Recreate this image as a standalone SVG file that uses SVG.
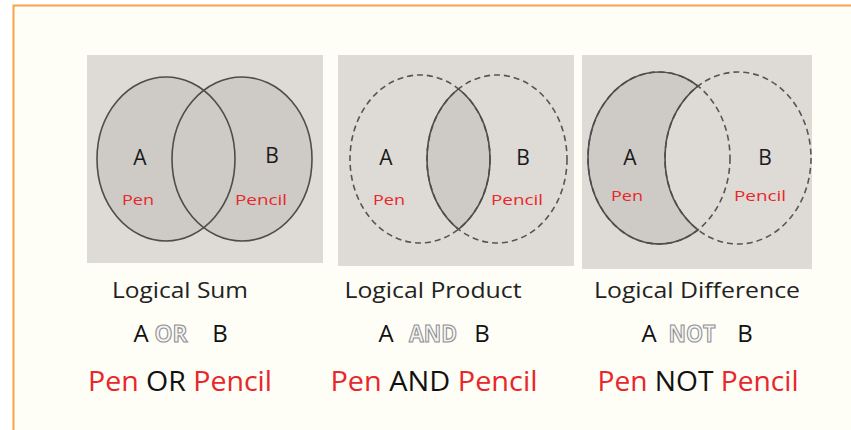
<svg xmlns="http://www.w3.org/2000/svg" width="851" height="430" viewBox="0 0 851 430">
  <style>
    .box { fill: #DEDAD6; }
    .shade { fill: #CECAC6; }
    .solid { fill: none; stroke: #4d4d4d; stroke-width: 1.6; }
    .dash { fill: none; stroke: #555; stroke-width: 1.6; stroke-dasharray: 6 4; }
    .lbl { font-family: "Open Sans", "Liberation Sans", sans-serif; font-size: 21px; fill: #1a1a1a; text-anchor: middle; }
    .red { fill: #E8262B; }
    .small { font-family: "Open Sans", "Liberation Sans", sans-serif; font-size: 15px; fill: #E8262B; text-anchor: middle; }
    .cap { font-family: "Open Sans", "Liberation Sans", sans-serif; font-size: 22px; fill: #222; text-anchor: middle; }
    .op { font-family: "Open Sans", "Liberation Sans", sans-serif; font-size: 24px; fill: #111; text-anchor: middle; }
    .outl { font-family: "Open Sans", "Liberation Sans", sans-serif; font-size: 24px; font-weight: bold; fill: #f4f4f4; stroke: #8e8e8e; stroke-width: 1.1; text-anchor: middle; }
    .row { font-family: "Open Sans", "Liberation Sans", sans-serif; font-size: 27px; fill: #111; text-anchor: middle; }
  </style>
  <defs>
    <clipPath id="clipA2"><ellipse cx="420" cy="159" rx="70" ry="84"/></clipPath>
    <clipPath id="clipB2"><ellipse cx="497" cy="159" rx="70" ry="84"/></clipPath>
    <clipPath id="clipA3"><ellipse cx="659" cy="158" rx="71" ry="86"/></clipPath>
    <mask id="outB3">
      <rect x="570" y="50" width="260" height="230" fill="#fff"/>
      <ellipse cx="738" cy="158" rx="73" ry="86" fill="#000"/>
    </mask>
  </defs>

  <rect x="0" y="0" width="851" height="430" fill="#ffffff"/>
  <rect x="13.5" y="5.5" width="850" height="440" fill="#FEFDF6" stroke="#F7A54A" stroke-width="2"/>

  <g id="sum">
    <rect class="box" x="87" y="55" width="236" height="208"/>
    <ellipse class="shade" cx="166" cy="159" rx="69" ry="82"/>
    <ellipse class="shade" cx="242" cy="159" rx="70" ry="82"/>
    <ellipse class="solid" cx="166" cy="159" rx="69" ry="82"/>
    <ellipse class="solid" cx="242" cy="159" rx="70" ry="82"/>
    <text class="lbl" x="140" y="165">A</text>
    <text class="lbl" x="272" y="163">B</text>
    <text class="small" x="138" y="205" textLength="32" lengthAdjust="spacingAndGlyphs">Pen</text>
    <text class="small" x="261" y="205" textLength="52" lengthAdjust="spacingAndGlyphs">Pencil</text>
    <text class="cap" x="180" y="298" textLength="136" lengthAdjust="spacingAndGlyphs">Logical Sum</text>
    <text class="op" x="141" y="342">A</text>
    <text class="outl" x="171" y="342" textLength="33" lengthAdjust="spacingAndGlyphs">OR</text>
    <text class="op" x="220" y="342">B</text>
    <text class="row" x="180" y="391" textLength="184" lengthAdjust="spacingAndGlyphs"><tspan class="red">Pen</tspan> OR <tspan class="red">Pencil</tspan></text>
  </g>

  <g id="product">
    <rect class="box" x="338" y="55" width="236" height="211"/>
    <ellipse class="shade" cx="497" cy="159" rx="70" ry="84" clip-path="url(#clipA2)"/>
    <ellipse class="dash" cx="420" cy="159" rx="70" ry="84"/>
    <ellipse class="dash" cx="497" cy="159" rx="70" ry="84"/>
    <ellipse class="solid" cx="420" cy="159" rx="70" ry="84" clip-path="url(#clipB2)"/>
    <ellipse class="solid" cx="497" cy="159" rx="70" ry="84" clip-path="url(#clipA2)"/>
    <text class="lbl" x="386" y="165">A</text>
    <text class="lbl" x="523" y="165">B</text>
    <text class="small" x="389" y="205" textLength="32" lengthAdjust="spacingAndGlyphs">Pen</text>
    <text class="small" x="517" y="205" textLength="52" lengthAdjust="spacingAndGlyphs">Pencil</text>
    <text class="cap" x="433" y="298" textLength="177" lengthAdjust="spacingAndGlyphs">Logical Product</text>
    <text class="op" x="386" y="342">A</text>
    <text class="outl" x="433" y="342" textLength="48" lengthAdjust="spacingAndGlyphs">AND</text>
    <text class="op" x="482" y="342">B</text>
    <text class="row" x="434" y="391" textLength="207" lengthAdjust="spacingAndGlyphs"><tspan class="red">Pen</tspan> AND <tspan class="red">Pencil</tspan></text>
  </g>

  <g id="difference">
    <rect class="box" x="582" y="55" width="230" height="214"/>
    <ellipse class="shade" cx="659" cy="158" rx="71" ry="86" mask="url(#outB3)"/>
    <ellipse class="dash" cx="659" cy="158" rx="71" ry="86"/>
    <ellipse class="dash" cx="738" cy="158" rx="73" ry="86"/>
    <ellipse class="solid" cx="659" cy="158" rx="71" ry="86" mask="url(#outB3)"/>
    <ellipse class="solid" cx="738" cy="158" rx="73" ry="86" clip-path="url(#clipA3)"/>
    <text class="lbl" x="630" y="165">A</text>
    <text class="lbl" x="765" y="165">B</text>
    <text class="small" x="627" y="201" textLength="32" lengthAdjust="spacingAndGlyphs">Pen</text>
    <text class="small" x="760" y="201" textLength="52" lengthAdjust="spacingAndGlyphs">Pencil</text>
    <text class="cap" x="697" y="298" textLength="206" lengthAdjust="spacingAndGlyphs">Logical Difference</text>
    <text class="op" x="649" y="342">A</text>
    <text class="outl" x="692" y="342" textLength="47" lengthAdjust="spacingAndGlyphs">NOT</text>
    <text class="op" x="745" y="342">B</text>
    <text class="row" x="698" y="391" textLength="201" lengthAdjust="spacingAndGlyphs"><tspan class="red">Pen</tspan> NOT <tspan class="red">Pencil</tspan></text>
  </g>
</svg>
